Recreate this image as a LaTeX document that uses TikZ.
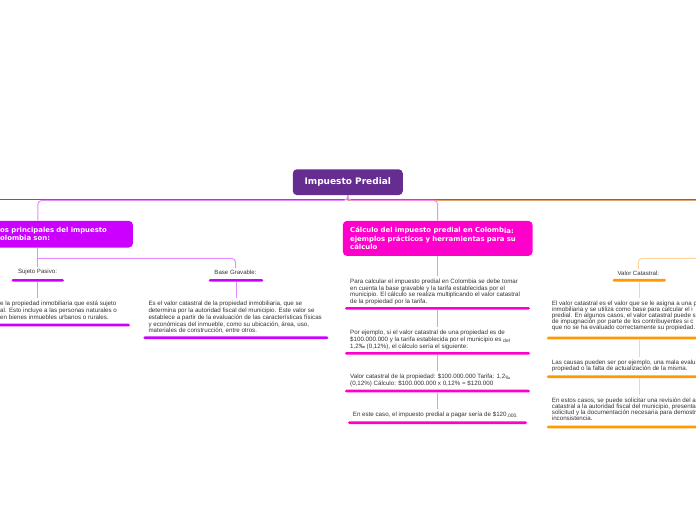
\documentclass[tikz,border=0pt]{standalone}
\usepackage{fontspec}
\setmainfont{Liberation Sans}
\newfontfamily\headfont{DejaVu Sans}
\definecolor{rootc}{RGB}{102,45,145}
\definecolor{lbc}{RGB}{204,0,255}
\definecolor{mbc}{RGB}{255,0,204}
\definecolor{rbc}{RGB}{255,153,0}
\definecolor{lconn}{RGB}{228,140,255}
\definecolor{mconn}{RGB}{255,140,228}
\definecolor{rconn}{RGB}{255,212,150}
\definecolor{txt}{RGB}{51,51,51}
\definecolor{blueline}{RGB}{80,80,255}
\definecolor{purpline}{RGB}{140,60,190}
\definecolor{tanline}{RGB}{225,165,110}
\tikzset{
  rootbox/.style={rectangle, rounded corners=4pt, fill=rootc, text=white, font=\headfont\bfseries\fontsize{9}{11}\selectfont, inner sep=0pt},
  branchbox/.style={rectangle, rounded corners=4pt, text=white, font=\headfont\bfseries\fontsize{6.9}{8.3}\selectfont, align=left, anchor=north west, inner ysep=0pt},
  para/.style={font=\fontsize{6.2}{6.7}\selectfont, text=txt, align=left, inner sep=0pt, anchor=base west},
  lab/.style={font=\fontsize{6.1}{7}\selectfont, text=txt, inner sep=2pt},
  uline/.style={rectangle, rounded corners=1.3pt, minimum height=2.6pt, inner sep=0pt},
  conn/.style={line width=1pt, rounded corners=4pt},
  gap/.style={shorten >=3pt},
}
\newcommand{\lowsmall}[1]{\raisebox{-1pt}{\fontsize{5}{5}\selectfont #1}}
\begin{document}
\begin{tikzpicture}[x=1pt,y=-1pt]
\useasboundingbox (0,0) rectangle (696,520);
\clip (0,0) rectangle (696,520);
% root
\node[rootbox, minimum width=110pt, minimum height=25.7pt] (root) at (347.8,182.2) {Impuesto Predial};
% main branches
\node[branchbox, fill=lbc, inner xsep=8pt, text width=124.7pt, minimum height=26.6pt] (lb) at (-8,220.7) {os principales del impuesto\\olombia son:};
\node[branchbox, fill=mbc, inner xsep=7.3pt, text width=175pt, minimum height=35pt] (mb) at (342.7,220.7) {C\'alculo del impuesto predial en Colomb\raisebox{-0.6pt}{ia:}\\ejemplos pr\'acticos y herramientas para su\\c\'alculo};
% free ends
\coordinate (lfar) at (-5,199.2);
\coordinate (rfar) at (700,199.2);
\coordinate (rfar2) at (700,200.3);
\coordinate (lbtop) at (37.8,220.7);
\coordinate (lfork) at (37.8,258.3);
\coordinate (rfork) at (700,258.3);
% top connectors
\draw[line width=1pt, blueline] (root.south) |- (lfar);
\draw[line width=1pt, purpline] (root.south) |- (rfar);
\draw[line width=1pt, tanline] (root.south) -- ++(0,5.2) -- (rfar2);
\draw[conn, lconn] (root.south) -- ++(0,5.2) -| (lbtop);
\draw[conn, mconn] (root.south) -- ++(0,5.2) -| (mb.north);
% left column
\node[lab] (sp) at (37.5,272.3) {Sujeto Pasivo:};
\node[lab] (bg) at (235.5,272.3) {Base Gravable:};
\node[uline, fill=lbc, minimum width=52.3pt] (usp) at (37.8,280.3) {};
\node[uline, fill=lbc, minimum width=54.6pt] (ubg) at (236,280.3) {};
\node[para] (psp) at (0,319.3) {e la propiedad inmobiliaria que est\'a sujeto\\al. Esto incluye a las personas naturales o\\en bienes inmuebles urbanos o rurales.};
\node[para] (pbg) at (148.3,332.7) {Es el valor catastral de la propiedad inmobiliaria, que se\\determina por la autoridad fiscal del municipio. Este valor se\\establece a partir de la evaluaci\'on de las caracter\'isticas f\'isicas\\y econ\'omicas del inmueble, como su ubicaci\'on, \'area, uso,\\materiales de construcci\'on, entre otros.};
\node[uline, fill=lbc, minimum width=135pt] (upsp) at (62.5,325) {};
\node[uline, fill=lbc, minimum width=185pt] (upbg) at (235.8,337.7) {};
\draw[conn, lconn] (sp.north |- lb.south) -- (sp.north);
\draw[conn, lconn] (lfork) -| (bg.north);
\draw[conn, lconn, gap] (usp.south) -- (usp.south |- psp.north);
\draw[conn, lconn, gap] (ubg.south) -- (ubg.south |- pbg.north);
% middle column
\node[para, font=\fontsize{6.2}{6.8}\selectfont] (p1) at (350,303.7) {Para calcular el impuesto predial en Colombia se debe tomar\\en cuenta la base gravable y la tarifa establecidas por el\\municipio. El c\'alculo se realiza multiplicando el valor catastral\\de la propiedad por la tarifa.};
\node[uline, fill=mbc, minimum width=185pt] (u1) at (437.5,308.3) {};
\node[para, font=\fontsize{6.2}{7.1}\selectfont] (p2) at (350,348.5) {Por ejemplo, si el valor catastral de una propiedad es de\\\$100.000.000 y la tarifa establecida por el municipio es \lowsmall{del}\\1,2‰ (0,12\%), el c\'alculo ser\'ia el siguiente:};
\node[uline, fill=mbc, minimum width=185pt] (u2) at (437.5,353.3) {};
\node[para, font=\fontsize{6.2}{6.7}\selectfont] (p3) at (350,385) {Valor catastral de la propiedad: \$100.000.000 Tarifa: 1,2\lowsmall{‰}\\(0,12\%) C\'alculo: \$100.000.000 x 0,12\% = \$120.000};
\node[uline, fill=mbc, minimum width=185pt] (u3) at (437.5,391) {};
\node[para] (p4) at (352.7,416.6) {En este caso, el impuesto predial a pagar ser\'ia de \$120\lowsmall{.000.}};
\node[uline, fill=mbc, minimum width=179pt] (u4) at (437.5,422.7) {};
\draw[conn, mconn, gap] (mb.south) -- (mb.south |- p1.north);
\draw[conn, mconn, gap] (u1.south) -- (u1.south |- p2.north);
\draw[conn, mconn, gap] (u2.south) -- (u2.south |- p3.north);
\draw[conn, mconn, gap] (u3.south) -- (u3.south |- p4.north);
% right column
\node[lab] (vc) at (638.3,273.6) {Valor Catastral:};
\node[uline, fill=rbc, minimum width=53.3pt] (uvc) at (639.3,280.2) {};
\node[para, font=\fontsize{6.2}{6.0}\selectfont] (pr1) at (551.7,329.9) {El valor catastral es el valor que se le asigna a una p\\inmobiliaria y se utiliza como base para calcular el i\\predial. En algunos casos, el valor catastral puede s\\de impugnaci\'on por parte de los contribuyentes si c\\que no se ha evaluado correctamente su propiedad.};
\node[uline, fill=rbc, minimum width=163.3pt] (ur1) at (628.4,338) {};
\node[para, font=\fontsize{6.2}{6.0}\selectfont] (pr2) at (551.7,370.3) {Las causas pueden ser por ejemplo, una mala evalu\\propiedad o la falta de actualizaci\'on de la misma.};
\node[uline, fill=rbc, minimum width=163.3pt] (ur2) at (628.4,376.7) {};
\node[para, font=\fontsize{6.2}{6.0}\selectfont] (pr3) at (551.7,420.3) {En estos casos, se puede solicitar una revisi\'on del a\\catastral a la autoridad fiscal del municipio, presenta\\solicitud y la documentaci\'on necesaria para demostr\\inconsistencia.};
\node[uline, fill=rbc, minimum width=163.3pt] (ur3) at (628.4,427) {};
\draw[conn, rconn] (rfork) -| (vc.north);
\draw[conn, rconn, gap] (uvc.south) -- (uvc.south |- pr1.north);
\draw[conn, rconn, gap] (ur1.south -| uvc.south) -- (uvc.south |- pr2.north);
\draw[conn, rconn, gap] (ur2.south -| uvc.south) -- (uvc.south |- pr3.north);
\end{tikzpicture}
\end{document}
